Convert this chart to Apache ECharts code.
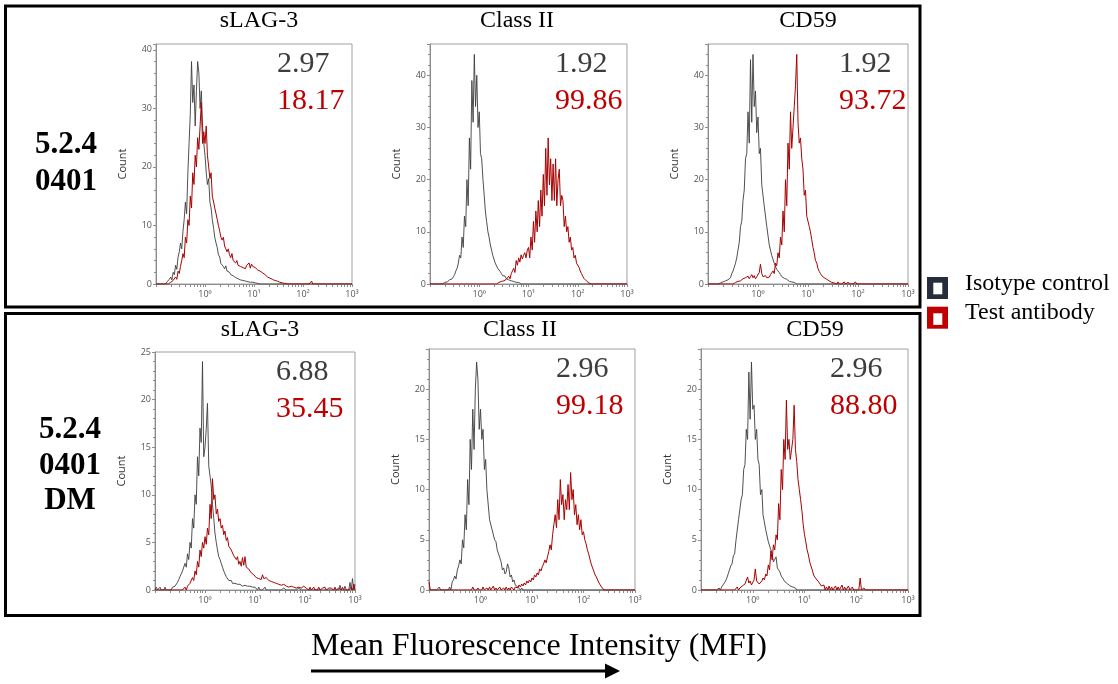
<!DOCTYPE html>
<html>
<head>
<meta charset="utf-8">
<script src="https://cdn.jsdelivr.net/npm/echarts@6/dist/echarts.min.js"></script>
<style>
html, body { margin: 0; padding: 0; background: #fff; }
#chart { width: 1118px; height: 684px; }
</style>
</head>
<body>
<div id="chart"></div>
<script>
// channel centres of the MFI histograms, 40 channels per decade
var mfiBins = [
  0.1, 0.106, 0.112, 0.119, 0.126, 0.133, 0.141, 0.15, 0.158, 0.168, 0.178, 0.188, 0.2, 0.211, 0.224, 0.237, 0.251, 0.266, 0.282, 0.299,
  0.316, 0.335, 0.355, 0.376, 0.398, 0.422, 0.447, 0.473, 0.501, 0.531, 0.562, 0.596, 0.631, 0.668, 0.708, 0.75, 0.794, 0.841, 0.891, 0.944,
  1, 1.06, 1.12, 1.19, 1.26, 1.33, 1.41, 1.5, 1.58, 1.68, 1.78, 1.88, 2, 2.11, 2.24, 2.37, 2.51, 2.66, 2.82, 2.99,
  3.16, 3.35, 3.55, 3.76, 3.98, 4.22, 4.47, 4.73, 5.01, 5.31, 5.62, 5.96, 6.31, 6.68, 7.08, 7.5, 7.94, 8.41, 8.91, 9.44,
  10, 10.6, 11.2, 11.9, 12.6, 13.3, 14.1, 15, 15.8, 16.8, 17.8, 18.8, 20, 21.1, 22.4, 23.7, 25.1, 26.6, 28.2, 29.9,
  31.6, 33.5, 35.5, 37.6, 39.8, 42.2, 44.7, 47.3, 50.1, 53.1, 56.2, 59.6, 63.1, 66.8, 70.8, 75, 79.4, 84.1, 89.1, 94.4,
  100, 106, 112, 119, 126, 133, 141, 150, 158, 168, 178, 188, 200, 211, 224, 237, 251, 266, 282, 299,
  316, 335, 355, 376, 398, 422, 447, 473, 501, 531, 562, 596, 631, 668, 708, 750, 794, 841, 891, 944,
  1000
];

// x ticks (decades + in-between)
var xTickValues = [
  0.1, 0.2, 0.3, 0.4, 0.5, 0.6, 0.7, 0.8, 0.9,
  1, 2, 3, 4, 5, 6, 7, 8, 9,
  10, 20, 30, 40, 50, 60, 70, 80, 90,
  100, 200, 300, 400, 500, 600, 700, 800, 900, 1000
];
var supDigits = ['\u2070', '\u00b9', '\u00b2', '\u00b3'];

var markerNames = ['sLAG-3', 'Class II', 'CD59'];
var rowNames = [['5.2.4', '0401'], ['5.2.4', '0401', 'DM']];
var isoPct  = ['2.97', '1.92', '1.92', '6.88', '2.96', '2.96'];
var testPct = ['18.17', '99.86', '93.72', '35.45', '99.18', '88.80'];
var countMax  = [41, 46, 46, 25, 24, 24];
var countStep = [10, 10, 10, 5, 5, 5];

// 5.2.4 0401 : sLAG-3
var iso1 = [
  0,0,0,0,0,0,0,0,0,0.4, 0.3,0.8,1.2,0.7,2,1.6,3.2,2.5,4.6,5.5,
  7,6,9,11,14,12,19,24,29,38, 31,34,27,33,38,36,30,33,27,24,
  22,19,17,18,14,13,11,9.5,8,7, 6.2,5,4.6,3.5,3.8,3,2.6,3.1,2.2,2.4,
  2,1.6,1.9,1.4,1.5,1.1,1.3,0.9,1,0.7, 0.9,0.6,0.8,0.5,0.7,0.4,0.5,0.3,0.5,0.3,
  0.4,0.2,0.3,0.1,0.2,0,0.1
];
var test1 = [
  0,0,0,0,0,0,0,0,0,0, 0,0,0.3,0,0.6,0.4,1.2,0.8,2.2,1.8,
  3,4,5.2,4.5,8,7,11,10,15,13, 19,17,22,20,25,23,27,31,24,26,
  24,27,22,20,18,19,15,14,13,12, 11,10,9,8,7.5,8,6.5,6,5.5,6,
  5,4.5,5.2,4,4.2,3.6,4,3.2,3.5,3, 3.3,2.8,3,2.6,3.2,3,3.6,2.7,3.4,3,
  3.2,2.8,3,2.4,2.5,2.2,2.3,1.9,2,1.6, 1.5,1.2,1.4,1,1.1,0.8,0.9,0.6,0.7,0.5,
  0.6,0.3,0.4,0.2,0.3,0.1,0.2,0,0.1,0, 0,0,0,0,0,0,0,0,0,0,
  0,0,0,0,0,0,0,0.5
];
// 5.2.4 0401 : Class II
var iso2 = [
  0,0,0,0,0,0,0,0,0,0, 0,0,0.3,0,0.4,0.2,0.8,0.5,1,1.4,
  1.8,2.5,3,4,5.5,5,9,7,13,11, 20,15,28,22,39,31,44,34,40,30,
  33,25,24,20,17,14,12,10,9,7.5, 6.5,5.5,5.2,4,4,3,2.7,2.4,2,1.6,
  1.3,1.5,1,1.2,0.8,1,0.6,0.7,0.5,0.4, 0.3,0.2,0.3,0.1,0,0.2
];
var test2 = [
  0,0,0,0,0,0,0,0,0,0, 0,0,0,0,0,0,0,0,0,0,
  0,0,0,0,0,0,0,0,0,0, 0,0,0,0,0,0,0,0,0,0,
  0,0,0,0,0,0,0,0,0,0, 0,0,0,0,0,0,0.3,0,0.5,0.2,
  0.6,0.3,0.9,1.2,1.5,1,2,2.5,3,2.2, 4.5,3.6,5,4.2,5.6,4.8,5.5,6,5,6.5,
  7,5,9,6.5,12,8,14,10,16,11, 18,13,21,15,26,17,28,19,24,16,
  23,16,24,15,20,22,15,17,16,11, 13,10,11,8,9,6.5,7,5,5.5,4,
  4,3.2,2.5,2,1.5,1.1,0.8,0.6,0.4,0.2, 0.1
];
// 5.2.4 0401 : CD59
var iso3 = [
  0,0,0,0,0,0,0,0,0,0, 0.2,0,0.4,0.3,0.6,0.4,0.8,1,1.2,2,
  2.5,3.2,4,5,6.5,8,11,12,16,18, 24,25,33,27,43,31,44,34,37,29,
  32,25,26,19,19,15,15,11,11,7.5, 7.5,5.5,5.5,4,3.8,2.8,2.5,2.2,1.8,1.4,
  1.3,1.1,1,0.9,0.8,0.5,0.6,0.4,0.4,0.3, 0.2,0,0.2
];
var test3 = [
  0,0,0,0,0,0,0,0,0,0, 0,0,0,0,0,0,0,0,0,0,
  0,0,0.3,0,0.5,0.3,0.6,0.8,1,0.7, 1.2,0.9,1.5,1,1.4,1.8,1.2,1.6,1,1.4,
  1.5,2.2,3.8,2,1.4,1.1,1.6,1.2,1.5,1.3, 1.8,1.5,2.5,2,4,3.5,6,5,9,7.5,
  14,10,20,15,27,22,33,26,30,34, 38,44,31,27,28,24,22,17,18,13,
  13,11,10,8.5,7,6,4.5,4,3,2.4, 2,1.6,1.4,1.2,1,0.9,0.8,0.6,0.5,0.3,
  0.4,0.2,0.3,0,0.4,0,0.3,0,0.2,0.4, 0,0,0.3,0,0,0.2,0,0,0.4,0
];
// 5.2.4 0401 DM : sLAG-3
var iso4 = [
  0,0.3,0,0,0.3,0,0.2,0,0.3,0, 0,0,0,0,0.3,0.2,0.4,0.6,0.8,1.1,
  1.4,1.2,2,1.8,2.8,2.4,3.8,3.2,5,4.4, 7.5,6.5,10,9,14,12,17,15.5,24,14,
  15,17,19.6,13,13,11,9,7.5,6,5, 4.2,3.5,3.2,2.8,2.4,2,1.7,1.4,1.2,1,
  0.9,1,0.7,0.8,0.7,0.5,0.6,0.4,0.6,0.5, 0.4,0.6,0.5,0.3,0.4,0.5,0.4,0.2,0.3,0.4,
  0.3,0.2,0,0.3,0,0.2,0,0,0.3,0, 0,0,0.2,0,0,0,0,0,0,0,
  0,0,0,0.2,0,0,0,0,0,0, 0,0,0,0,0,0.2,0,0,0,0,
  0,0,0,0,0,0,0,0,0,0, 0,0,0,0,0,0,0,0,0,0,
  0,0,0,0,0,0,0,0,0.5,0, 0,0,0.4,0,0,0,0.8,0,1.2,0,
  0.6
];
var test4 = [
  0,0,0,0,0,0,0,0,0,0, 0,0,0,0,0,0,0,0,0,0,
  0,0,0,0.2,0.3,0,0.4,0.5,0.7,0.6, 1.3,1,2,1.6,3,2.4,4.2,3.5,5,4.4,
  5.6,4.8,6.5,5.8,9,7.5,11.7,9.5,10,8, 8.5,7.2,7.5,6.5,6.8,5.8,6.2,5.2,5.5,4.6,
  4.8,4.2,4.4,3.6,3.8,3.2,3.5,2.7,3,2.5, 3.4,2.6,3.5,2.4,2.6,2.2,2.1,1.8,2,1.6,
  1.6,1.3,1.5,1.2,1.4,1.1,1.6,1.2,1.4,1.3, 1.5,1,1.2,0.9,1.1,0.8,0.9,0.7,0.9,0.6,
  0.8,0.5,0.7,0.6,0.7,0.4,0.6,0.3,0.5,0.4, 0.5,0.3,0.5,0.2,0.4,0.3,0.4,0.2,0.3,0.4,
  0.4,0.2,0.3,0,0.3,0,0.2,0.3,0,0.2, 0,0.3,0,0,0.2,0,0.3,0,0,0.2,
  0,0.2,0,0,0.3,0,0,0.2,0,0, 0.3,0,0,0,0.2,0,0,0.3,0,0.6,
  0
];
// 5.2.4 0401 DM : Class II
var iso5 = [
  0,0,0,0,0,0,0,0,0.3,0, 0,0,0,0,0,0,0.3,0,0.8,1,
  1.4,1.1,2,2.4,3,2.6,5,4.2,7.5,6, 11,8.5,15,12,18,14,20,22.7,21,16,
  18,15,16,12,13,10,10,7,7,6, 6,5,4.8,4,3.6,3.2,2.8,2,2.2,1.6,
  1.8,2.6,2.2,1.3,1.5,0.8,1,0.5,0.6,0.3, 0.3,0,0.2
];
var test5 = [
  0.8,0,0,0,0,0,0,0,0,0, 0,0,0,0,0,0,0,0,0,0,
  0,0,0,0,0,0,0,0,0,0, 0,0,0,0,0.3,0,0,0,0.2,0,
  0,0,0.3,0,0,0.2,0,0.3,0,0, 0.4,0,0.2,0,0,0.3,0,0,0.2,0,
  0.3,0,0.2,0,0.3,0.4,0,0.3,0.4,0.2, 0.5,0.3,0.6,0.4,0.7,0.5,0.9,0.7,1,0.8,
  1.2,1,1.5,1.3,1.7,1.5,2.1,1.9,2.3,2.6, 3,2.7,3.3,3.8,4.5,4,5.5,6.5,7.5,6.2,
  9,7,11,8.5,9.5,7,9,8,10.5,8, 11.7,9,10,7.5,8.5,6.5,7.5,6,7,5.5,
  5.8,5,4.6,4,3.6,3.1,2.6,2.2,1.9,1.5, 1.3,1,0.7,0.5,0.3,0.2
];
// 5.2.4 0401 DM : CD59
var iso6 = [
  0,0,0,0,0,0,0,0,0,0, 0,0,0,0,0.2,0,0.3,0.5,0.7,0.9,
  1.2,1.6,1.5,2.4,2.6,3.4,3.6,4.9,5,7, 7,9,9.5,12,12.5,16,15,21.7,17,22.7,
  18,18.4,15,16,13,12.5,9.5,10,7.5,7.5, 6,6,4.8,4.8,4,3.6,2.8,2.8,3.3,2.2,
  2,1.8,1.4,1.3,1,0.8,0.7,0.6,0.5,0.4, 0.3,0.3,0.3,0.2
];
var test6 = [
  0,0,0,0,0,0,0,0,0,0, 0,0,0,0,0,0,0,0,0,0,
  0,0,0,0,0,0,0,0,0.3,0, 0.2,0.3,0.4,0.3,0.6,0.5,1.3,0.7,0.9,0.5,
  0.6,1,2.1,0.9,0.8,0.6,0.7,0.9,1.2,1, 1.6,1.4,2.5,2,3.9,3,4.5,4,5.5,5,
  8.6,7,12,10,15,13,18.9,14,15,13, 14,15,18.4,14,12.8,11,10,9,7.9,6.5,
  5.5,4.8,4,3.5,2.8,2.4,2,1.5,1.3,1.1, 1,0.8,0.7,0.4,0.3,0.5,0,0.3,0,0.4,
  0,0.3,0,0,0.4,0,0.3,0,0,0.5, 0,0.3,0,0,0.4,0,0,0.3,0,0,
  0,0,0,1.2,0,0,0.2
];

var isoSets  = [iso1, iso2, iso3, iso4, iso5, iso6];
var testSets = [test1, test2, test3, test4, test5, test6];

// plot boxes (px)
var boxes = [
  { left: 156, top: 44,  width: 196, height: 240 },
  { left: 430, top: 44,  width: 197, height: 240 },
  { left: 708, top: 44,  width: 200, height: 240 },
  { left: 155, top: 352, width: 200, height: 238 },
  { left: 429, top: 349, width: 206, height: 241 },
  { left: 701, top: 349, width: 207, height: 241 }
];
var statX = [277, 555, 839, 276, 556, 830];

var GREY = '#3d3d3d';
var RED = '#a80000';
var TXT_RED = '#c00000';
var SERIF = '"Liberation Serif", "Times New Roman", serif';
var axisGrey = '#8c8c8c';

function toPairs(counts) {
  return mfiBins.map(function (x, i) { return [x, counts[i] || 0]; });
}
function decadeLabel(v) {
  var e = Math.round(Math.log(v) / Math.LN10);
  if (e < 0) return '';
  return '10' + supDigits[e];
}

var grids = [], xAxes = [], yAxes = [], series = [], graphics = [];

boxes.forEach(function (b, k) {
  grids.push({
    left: b.left, top: b.top, width: b.width, height: b.height,
    show: true, borderColor: '#a0a0a0', borderWidth: 1,
    containLabel: false, outerBoundsMode: 'none'
  });
  xAxes.push({
    type: 'log', gridIndex: k, logBase: 10, min: 0.1, max: 1000,
    axisLine: { show: true, lineStyle: { color: axisGrey } },
    axisTick: { show: true, length: 3, customValues: xTickValues, lineStyle: { color: axisGrey } },
    axisLabel: { formatter: decadeLabel, fontSize: 9, color: '#555', margin: 6, fontFamily: 'Open Sans' },
    splitLine: { show: false }
  });
  yAxes.push({
    type: 'value', gridIndex: k, min: 0, max: countMax[k], interval: countStep[k],
    name: 'Count', nameLocation: 'middle', nameGap: 28,
    nameTextStyle: { fontSize: 11, color: '#333', fontFamily: 'Open Sans' },
    axisLine: { show: true, lineStyle: { color: axisGrey } },
    axisTick: { show: true, length: 3, lineStyle: { color: axisGrey } },
    minorTick: { show: true, splitNumber: 5, length: 2, lineStyle: { color: axisGrey } },
    axisLabel: { fontSize: 9, color: '#555', margin: 4, fontFamily: 'Open Sans',
      showMaxLabel: countMax[k] % countStep[k] === 0 },
    splitLine: { show: false }
  });
  series.push({
    name: 'Isotype control', type: 'line', xAxisIndex: k, yAxisIndex: k,
    data: toPairs(isoSets[k]), showSymbol: false, symbol: 'none',
    lineStyle: { color: GREY, width: 1, opacity: 0.9 }, silent: true
  });
  series.push({
    name: 'Test antibody', type: 'line', xAxisIndex: k, yAxisIndex: k,
    data: toPairs(testSets[k]), showSymbol: false, symbol: 'none',
    lineStyle: { color: RED, width: 1 }, silent: true
  });

  // percentages top-right inside each plot
  graphics.push({ type: 'text', x: statX[k], y: b.top + 20,
    style: { text: isoPct[k], fill: GREY, font: '30px ' + SERIF, textVerticalAlign: 'middle', verticalAlign: 'middle' } });
  graphics.push({ type: 'text', x: statX[k], y: b.top + 57,
    style: { text: testPct[k], fill: TXT_RED, font: '30px ' + SERIF, textVerticalAlign: 'middle', verticalAlign: 'middle' } });
});

// marker titles above each column
var titleX = [[259, 517, 808], [260, 520, 815]];
var titleY = [21, 330];
[0, 1].forEach(function (r) {
  markerNames.forEach(function (m, c) {
    graphics.push({ type: 'text', x: titleX[r][c], y: titleY[r],
      style: { text: m, fill: '#000', font: '24px ' + SERIF, textAlign: 'center', align: 'center',
        textVerticalAlign: 'middle', verticalAlign: 'middle' } });
  });
});

// row labels
var rowX = [66, 70];
var rowY = [[145, 182], [430, 466, 501]];
rowNames.forEach(function (lines, r) {
  lines.forEach(function (t, j) {
    graphics.push({ type: 'text', x: rowX[r], y: rowY[r][j],
      style: { text: t, fill: '#000', font: 'bold 31px ' + SERIF, textAlign: 'center', align: 'center',
        textVerticalAlign: 'middle', verticalAlign: 'middle' } });
  });
});

// framing boxes
graphics.push({ type: 'rect', shape: { x: 5.5, y: 6, width: 914.5, height: 301 },
  style: { fill: null, stroke: '#000', lineWidth: 3 } });
graphics.push({ type: 'rect', shape: { x: 5.5, y: 313.5, width: 914.5, height: 302 },
  style: { fill: null, stroke: '#000', lineWidth: 3 } });

// legend
graphics.push({ type: 'rect', shape: { x: 927, y: 277, width: 21, height: 22 }, style: { fill: '#262e3b' } });
graphics.push({ type: 'rect', shape: { x: 933.3, y: 282.7, width: 9, height: 11.6 }, style: { fill: '#fff' } });
graphics.push({ type: 'rect', shape: { x: 927, y: 306.7, width: 21, height: 22 }, style: { fill: TXT_RED } });
graphics.push({ type: 'rect', shape: { x: 933.3, y: 313.3, width: 9, height: 11.6 }, style: { fill: '#fff' } });
graphics.push({ type: 'text', x: 965, y: 284,
  style: { text: 'Isotype control', fill: '#000', font: '24px ' + SERIF, textVerticalAlign: 'middle', verticalAlign: 'middle' } });
graphics.push({ type: 'text', x: 965, y: 312.5,
  style: { text: 'Test antibody', fill: '#000', font: '24px ' + SERIF, textVerticalAlign: 'middle', verticalAlign: 'middle' } });

// bottom caption with arrow
graphics.push({ type: 'text', x: 311, y: 647,
  style: { text: 'Mean Fluorescence Intensity (MFI)', fill: '#000', font: '32px ' + SERIF,
    textVerticalAlign: 'middle', verticalAlign: 'middle' } });
graphics.push({ type: 'line', shape: { x1: 311, y1: 671, x2: 607, y2: 671 },
  style: { stroke: '#000', lineWidth: 3 } });
graphics.push({ type: 'polygon', shape: { points: [[605, 663.5], [620, 671], [605, 678.5]] },
  style: { fill: '#000' } });

var chart = echarts.init(document.getElementById('chart'), null, { renderer: 'canvas' });
chart.setOption({
  animation: false,
  backgroundColor: '#fff',
  textStyle: { fontFamily: 'Open Sans' },
  grid: grids,
  xAxis: xAxes,
  yAxis: yAxes,
  series: series,
  graphic: { elements: graphics }
});
</script>
</body>
</html>
